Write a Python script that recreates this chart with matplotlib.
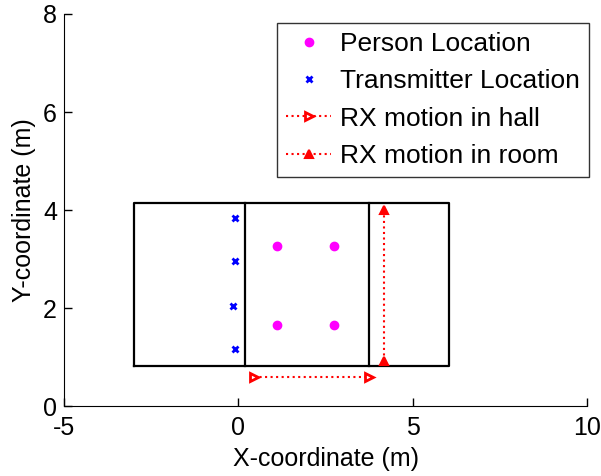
import matplotlib
matplotlib.use("Agg")
import matplotlib.pyplot as plt

plt.rcParams['font.family'] = ['Liberation Sans', 'DejaVu Sans']
plt.rcParams['axes.unicode_minus'] = False

# Data
room_x = [-3, 6.05, 6.05, -3, -3]
room_y = [0.82, 0.82, 4.14, 4.14, 0.82]
wall1_x = [0.2, 0.2]
wall2_x = [3.75, 3.75]
wall_y = [0.82, 4.14]
person_x = [1.1, 2.73, 1.1, 2.73]
person_y = [3.27, 3.27, 1.65, 1.65]
tx_x = [-0.1, -0.09, -0.14, -0.1]
tx_y = [3.83, 2.96, 2.05, 1.16]
hall_x = [0.44, 3.74]
hall_y = [0.6, 0.6]
room_rx_x = [4.17, 4.17]
room_rx_y = [0.92, 4.0]

fig = plt.figure(figsize=(6.01, 4.76), dpi=100)
ax = fig.add_axes([0.1065, 0.147, 0.8702, 0.8236])

ax.plot(room_x, room_y, color='black', lw=1.6)
ax.plot(wall1_x, wall_y, color='black', lw=1.6)
ax.plot(wall2_x, wall_y, color='black', lw=1.6)

ax.plot(person_x, person_y, linestyle='none', marker='o', color='magenta',
        markersize=6, label='Person Location')
ax.plot(tx_x, tx_y, linestyle='none', marker='x', color='blue',
        markersize=5, mew=2, label='Transmitter Location')
ax.plot(hall_x, hall_y, linestyle=':', color='red', lw=1.5, marker='>',
        markersize=6, mew=2, markerfacecolor='white', label='RX motion in hall')
ax.plot(room_rx_x, room_rx_y, linestyle=':', color='red', lw=1.5, marker='^',
        markersize=6, mew=1.5, label='RX motion in room')

ax.set_xlim(-5, 10)
ax.set_ylim(0, 8)
ax.set_xticks([-5, 0, 5, 10])
ax.set_yticks([0, 2, 4, 6, 8])
ax.tick_params(direction='in', length=6, labelsize=18, width=1)
ax.tick_params(axis='x', pad=7)
ax.tick_params(axis='y', pad=5)
ax.spines['top'].set_visible(False)
ax.spines['right'].set_visible(False)
ax.set_xlabel('X-coordinate (m)', fontsize=18, labelpad=5)
ax.set_ylabel('Y-coordinate (m)', fontsize=18, labelpad=5)

leg = ax.legend(loc='upper left', bbox_to_anchor=(0.407, 0.977), fontsize=19,
                frameon=True, fancybox=False, edgecolor='black',
                handlelength=1.7, borderpad=0.35, labelspacing=0.5,
                handletextpad=0.34, borderaxespad=0)
leg.get_frame().set_linewidth(1)

fig.savefig('out.png', dpi=100)
